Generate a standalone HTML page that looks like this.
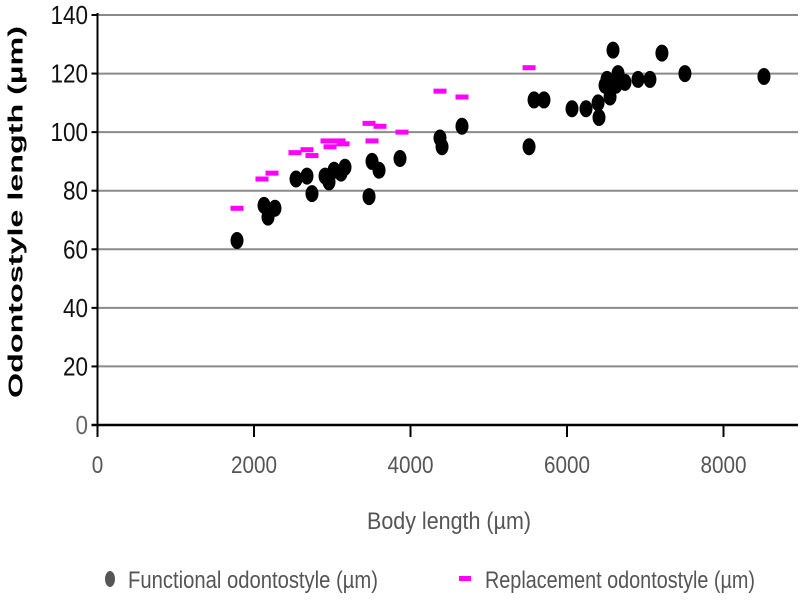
<!DOCTYPE html>
<html><head><meta charset="utf-8"><style>
html,body{margin:0;padding:0;background:#fff;}
svg{display:block;font-family:"Liberation Sans",sans-serif;}
</style></head><body>
<svg id="chart" width="800" height="600">
<g id="grid"></g>
<g id="axes"></g>
<g id="marks"></g>
<text x="17" y="212" transform="rotate(-90 17 212)" text-anchor="middle" font-size="20" font-weight="bold" fill="#000" textLength="372" lengthAdjust="spacingAndGlyphs" dominant-baseline="middle">Odontostyle length (µm)</text>
<text x="449" y="529" text-anchor="middle" font-size="24" fill="#555" textLength="164" lengthAdjust="spacingAndGlyphs">Body length (µm)</text>
<g>
<g>
<ellipse cx="110" cy="579" rx="5" ry="8" fill="#555"/>
<text x="128" y="588" font-size="24" fill="#555" textLength="250" lengthAdjust="spacingAndGlyphs">Functional odontostyle (µm)</text>
</g>
<g>
<rect x="459" y="576" width="12" height="5" fill="#f0f"/>
<text x="485" y="588" font-size="24" fill="#555" textLength="270" lengthAdjust="spacingAndGlyphs">Replacement odontostyle (µm)</text>
</g>
</g>
</svg>
<script>
const xTicks = [0, 2000, 4000, 6000, 8000];
const yTicks = [0, 20, 40, 60, 80, 100, 120, 140];
const funcX = [1783,2128,2179,2268,2537,2677,2741,2908,2959,3023,3112,3163,3470,3508,3598,3866,4377,4403,4658,5515,5579,5706,6064,6243,6409,6397,6486,6511,6550,6588,6652,6626,6741,6907,7060,7213,7507,8517];
const funcY = [63,75,71,74,84,85,79,85,83,87,86,88,78,90,87,91,98,95,102,95,111,111,108,108,105,110,116,118,112,128,120,116,117,118,118,127,120,119];
const replX = [1783,2102,2230,2524,2677,2741,2933,2972,3087,3138,3470,3508,3610,3891,4377,4658,5515];
const replY = [74,84,86,93,94,92,97,95,97,96,103,97,102,100,114,112,122];

const X0=97.5, XPX=156.5/2000, Y0=425, YPX=410/140, XRIGHT=798;
const sx = v => X0 + v*XPX;
const sy = v => Y0 - v*YPX;
const NS="http://www.w3.org/2000/svg";
function mk(tag, attrs, parent){const e=document.createElementNS(NS,tag);for(const k in attrs)e.setAttribute(k,attrs[k]);parent.appendChild(e);return e;}
const grid=document.getElementById('grid'), axes=document.getElementById('axes'), marks=document.getElementById('marks');

yTicks.forEach(t=>{
  const y=sy(t);
  if(t>0){
    const g=mk('line',{x1:X0,x2:XRIGHT,y1:y,y2:y,stroke:'#8a8a8a','stroke-width':2},grid);
    
    
  }
  const tk=mk('line',{x1:X0-6,x2:X0,y1:y,y2:y,stroke:'#000','stroke-width':2},axes);
  
  
  const lb=mk('text',{x:88,y:y+9,'text-anchor':'end','font-size':26,fill:t===0?'#666':'#111'},axes);
  lb.textContent=t;
  lb.setAttribute('textLength',String(t).length*12.5);
  lb.setAttribute('lengthAdjust','spacingAndGlyphs');
  
  
});
xTicks.forEach(t=>{
  const x=sx(t);
  const tk=mk('line',{x1:x,x2:x,y1:Y0,y2:Y0+12,stroke:'#000','stroke-width':2},axes);
  
  
  const lb=mk('text',{x:x,y:Y0+48,'text-anchor':'middle','font-size':24,fill:'#555'},axes);
  lb.textContent=t;
  lb.setAttribute('textLength',String(t).length*11.5);
  lb.setAttribute('lengthAdjust','spacingAndGlyphs');
  
  
});
const ya=mk('line',{x1:X0,x2:X0,y1:13,y2:Y0+1,stroke:'#000','stroke-width':2},axes);


const xa=mk('line',{x1:X0-6,x2:XRIGHT,y1:Y0,y2:Y0,stroke:'#000','stroke-width':2.5},axes);



funcX.forEach((v,i)=>{
  const e=mk('ellipse',{cx:sx(v),cy:sy(funcY[i]),rx:6.5,ry:8.5,fill:'#000'},marks);
  
  
});
replX.forEach((v,i)=>{
  const r=mk('rect',{x:sx(v)-6.5,y:sy(replY[i])-2.5,width:13,height:5,fill:'#f0f'},marks);
  
  
});
</script>
</body></html>
